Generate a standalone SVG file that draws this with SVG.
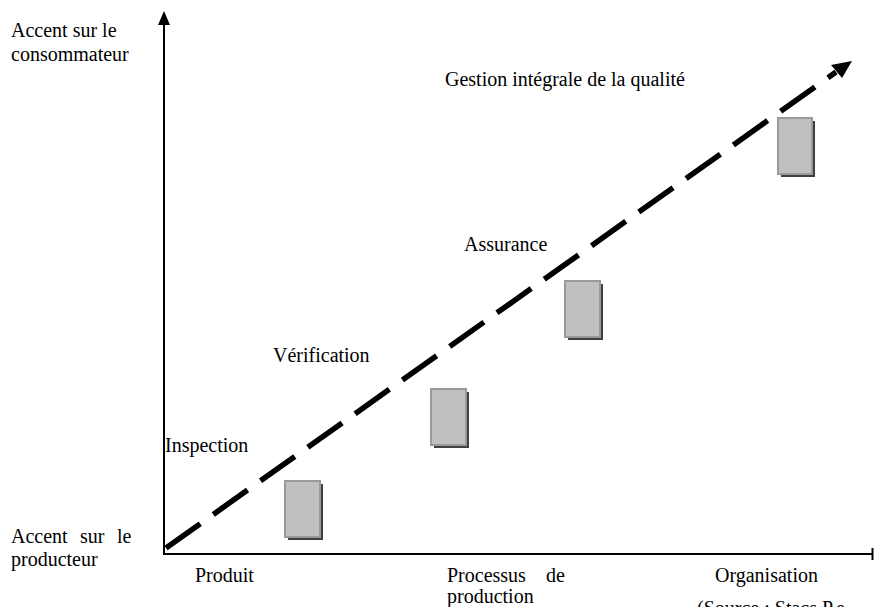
<svg xmlns="http://www.w3.org/2000/svg" width="874" height="607" viewBox="0 0 874 607">
<defs>
<style>
text{font-family:"Liberation Serif","Times New Roman",serif;font-size:20px;fill:#000}
.axis{stroke:#000;stroke-width:2;fill:none}
.box{fill:#c0c0c0;stroke:#9a9a9a;stroke-width:2}
.shadow{fill:#404040}
</style>
</defs>
<rect width="874" height="607" fill="#fff"/>
<g id="axes">
<line class="axis" x1="164" y1="554" x2="164" y2="20"/>
<polygon points="164,11 158,25 170,25" fill="#000"/>
<line class="axis" x1="163" y1="554" x2="873" y2="554"/>
<line class="axis" x1="872.5" y1="548" x2="872.5" y2="560"/>
</g>
<g id="box1"><rect class="shadow" x="288" y="484" width="35" height="56"/><rect class="box" x="285" y="481" width="35" height="56"/></g>
<g id="box2"><rect class="shadow" x="434" y="392" width="35" height="56"/><rect class="box" x="431" y="389" width="35" height="56"/></g>
<g id="box3"><rect class="shadow" x="568" y="284" width="35" height="56"/><rect class="box" x="565" y="281" width="35" height="56"/></g>
<g id="box4"><rect class="shadow" x="781" y="121" width="34" height="56"/><rect class="box" x="778" y="118" width="34" height="56"/></g>
<g id="connectors">
<line x1="166" y1="548" x2="836" y2="72" stroke="#000" stroke-width="5.5" stroke-dasharray="42 16"/>
<polygon points="852,61 831,65 842,78" fill="#000"/>
</g>
<g id="labels">
<text x="11" y="37">Accent sur le</text>
<text x="11" y="61">consommateur</text>
<text x="11" y="543">Accent</text>
<text x="80" y="543">sur</text>
<text x="117" y="543">le</text>
<text x="11" y="566">producteur</text>
<text x="195" y="582">Produit</text>
<text x="447" y="582">Processus</text>
<text x="546" y="582">de</text>
<text x="447" y="603">production</text>
<text x="715" y="582">Organisation</text>
<text x="697" y="615">(Source : Stacs P.e</text>
<text x="445" y="86">Gestion intégrale de la qualité</text>
<text x="464" y="251">Assurance</text>
<text x="273" y="362">Vérification</text>
<text x="165" y="452">Inspection</text>
</g>
</svg>
